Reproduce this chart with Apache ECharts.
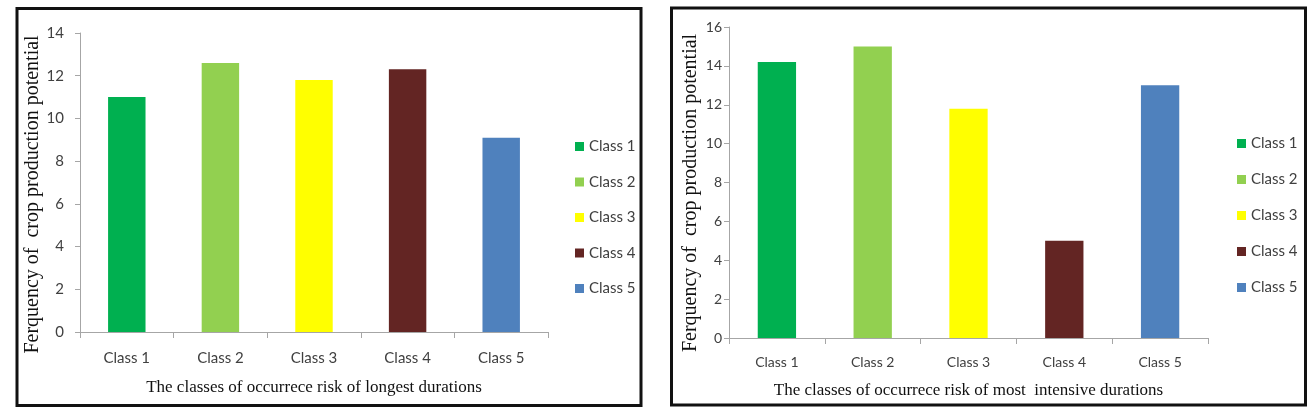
<!DOCTYPE html>
<html>
<head>
<meta charset="utf-8">
<title>Crop production potential by risk class</title>
<script src="https://cdn.jsdelivr.net/npm/echarts@6/dist/echarts.min.js"></script>
<style>
  html, body { margin: 0; padding: 0; background: #fff; }
  #chart { width: 1314px; height: 416px; }
</style>
</head>
<body>
<div id="chart"></div>
<script>
var categories = ['Class 1', 'Class 2', 'Class 3', 'Class 4', 'Class 5'];
var longestValues = [11, 12.6, 11.8, 12.3, 9.1];
var intensiveValues = [14.2, 15, 11.8, 5, 13];
var classColors = ['#00b050', '#92d050', '#ffff00', '#632523', '#4f81bd'];

var sansFont = "Lato, 'Open Sans', sans-serif";
var serifFont = "'Liberation Serif', 'Times New Roman', serif";
var yName = 'Ferquency of  crop production potential';

function xAxisFor(idx, title, labelMargin, titleGap, fontSize) {
    return {
        type: 'category',
        gridIndex: idx,
        data: categories,
        axisLine: { lineStyle: { color: '#a6a6a6', width: 1 } },
        axisTick: { show: true, length: 6, lineStyle: { color: '#a6a6a6' } },
        axisLabel: { color: '#404040', fontSize: fontSize, fontFamily: sansFont, margin: labelMargin },
        name: title,
        nameLocation: 'middle',
        nameGap: titleGap,
        nameTextStyle: { color: '#111', fontSize: 17, fontFamily: serifFont }
    };
}

function yAxisFor(idx, max, labelMargin, nameGap, shift, fontSize) {
    return {
        type: 'value',
        gridIndex: idx,
        min: 0,
        max: max,
        interval: 2,
        splitLine: { show: false },
        axisLine: { show: true, lineStyle: { color: '#a6a6a6', width: 1 } },
        axisTick: { show: true, length: 5, lineStyle: { color: '#a6a6a6' } },
        axisLabel: { color: '#404040', fontSize: fontSize, fontFamily: sansFont, margin: labelMargin },
        name: yName,
        nameLocation: 'middle',
        nameRotate: 90,
        nameGap: nameGap,
        nameTextStyle: { color: '#111', fontSize: 20, fontFamily: serifFont, padding: [0, shift, 0, 0] }
    };
}

var series = [];
[longestValues, intensiveValues].forEach(function (values, p) {
    categories.forEach(function (name, i) {
        series.push({
            type: 'bar',
            name: name,
            xAxisIndex: p,
            yAxisIndex: p,
            barWidth: '40%',
            barGap: '-100%',
            itemStyle: { color: classColors[i] },
            data: values.map(function (v, j) { return j === i ? v : '-'; })
        });
    });
});

function legendAt(left, top, gap) {
    return {
        orient: 'vertical',
        left: left,
        top: top,
        data: categories,
        icon: 'rect',
        itemWidth: 9,
        itemHeight: 9,
        itemGap: gap,
        textStyle: { color: '#404040', fontSize: 15, fontFamily: sansFont }
    };
}

var chart = echarts.init(document.getElementById('chart'), null, { renderer: 'canvas' });
chart.setOption({
    backgroundColor: '#fff',
    animation: false,
    grid: [
        { left: 80, top: 33, width: 468, height: 299 },
        { left: 729, top: 27, width: 479, height: 311 }
    ],
    xAxis: [
        xAxisFor(0, 'The classes of occurrece risk of longest durations', 19, 47, 15),
        xAxisFor(1, 'The classes of occurrece risk of most  intensive durations', 17, 44, 14)
    ],
    yAxis: [
        yAxisFor(0, 14, 16, 34, 24, 15),
        yAxisFor(1, 16, 7, 28, 21, 14)
    ],
    legend: [legendAt(570, 134, 20.5), legendAt(1232, 131, 21)],
    series: series,
    graphic: [
        { type: 'rect', silent: true, z: 10,
          shape: { x: 17, y: 8.5, width: 624, height: 397 },
          style: { fill: 'none', stroke: '#111', lineWidth: 3 } },
        { type: 'rect', silent: true, z: 10,
          shape: { x: 671.5, y: 8, width: 634, height: 397 },
          style: { fill: 'none', stroke: '#111', lineWidth: 3 } }
    ]
});
</script>
</body>
</html>
